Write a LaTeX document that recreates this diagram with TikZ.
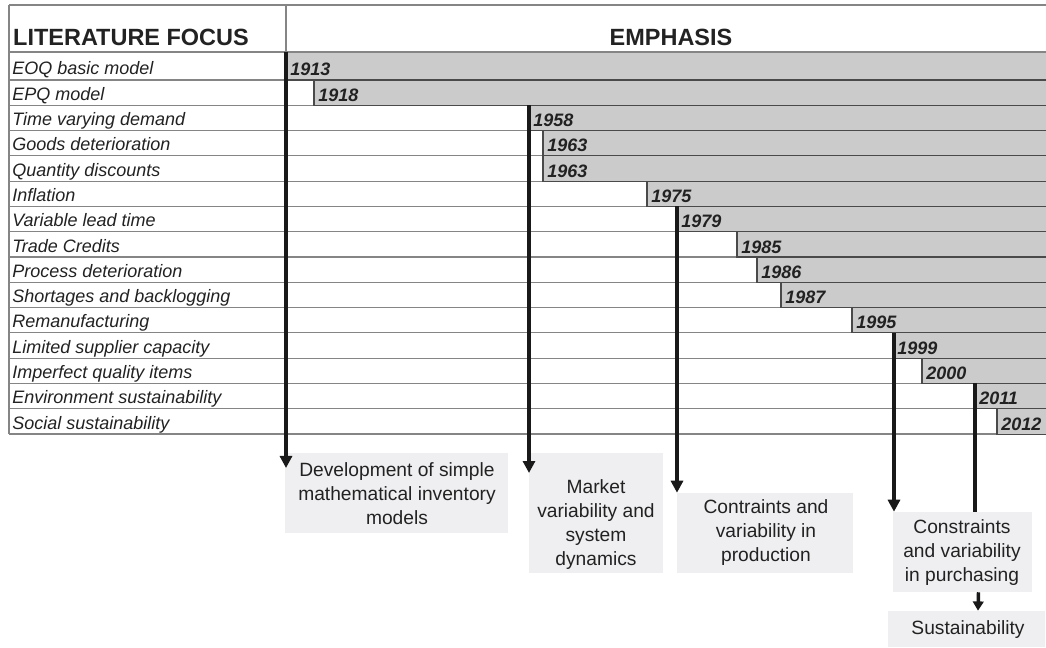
\documentclass[tikz,border=0pt]{standalone}
\usepackage{fontspec}
\setmainfont{Liberation Sans}
\usetikzlibrary{arrows.meta,calc}
\definecolor{bargray}{HTML}{CBCBCB}
\definecolor{boxgray}{HTML}{EFEFF1}
\definecolor{linegray}{HTML}{858585}
\definecolor{bardark}{HTML}{4A4A4A}
\definecolor{txt}{HTML}{222222}
\tikzset{
  rowlab/.style={anchor=base west,inner sep=0pt,text=txt,font=\fontsize{13.5pt}{16pt}\selectfont\itshape},
  yearlab/.style={anchor=base west,inner sep=0pt,text=txt,font=\fontsize{13.5pt}{16pt}\selectfont\bfseries\itshape},
  headlab/.style={anchor=base,inner sep=0pt,text=txt,font=\fontsize{17.6pt}{20pt}\selectfont\bfseries},
  barbox/.style={fill=bargray,draw=bardark,line width=0.8pt},
  gridline/.style={draw=linegray,line width=0.9pt},
  boxfill/.style={fill=boxgray,draw=none,inner sep=0pt},
  boxtext/.style={align=center,inner sep=0pt,text=txt,font=\fontsize{14.4pt}{18pt}\selectfont},
  bigarrow/.style={line width=3pt,draw=black!90,-{Triangle[width=9pt,length=9pt]}},
  bigline/.style={line width=3pt,draw=black!90},
}
\begin{document}
\begin{tikzpicture}[x=0.75pt,y=-0.75pt]
\useasboundingbox (0,0) rectangle (1046,648);
\fill[white] (0,0) rectangle (1046,648);
% bars and labels
\foreach \lab/\yr/\xs [count=\k] in {
  EOQ basic model/1913/286,
  EPQ model/1918/314,
  Time varying demand/1958/529,
  Goods deterioration/1963/543,
  Quantity discounts/1963/543,
  Inflation/1975/647,
  Variable lead time/1979/677,
  Trade Credits/1985/737,
  Process deterioration/1986/757,
  Shortages and backlogging/1987/781,
  Remanufacturing/1995/852,
  Limited supplier capacity/1999/893,
  Imperfect quality items/2000/922,
  Environment sustainability/2011/975,
  Social sustainability/2012/997}{
  \pgfmathsetmacro\yt{ifthenelse(\k==1,52,80+25.29*(\k-2))}
  \pgfmathsetmacro\yb{80+25.29*(\k-1)}
  \draw[gridline] (9,\yb) -- (1046,\yb);
  \filldraw[barbox] (\xs,\yt) rectangle (1050,\yb);
  \node[rowlab] (lab\k) at (12,\yb-5) {\lab};
  \node[yearlab] (yr\k) at (\xs+4,\yb-4) {\yr};
}
% frame
\draw[gridline] (9,5) -- (1046,5);
\draw[gridline] (9,52) -- (1046,52);
\draw[gridline] (9,5) -- (9,434);
\draw[gridline] (286,5) -- (286,52);
% headers
\node[headlab] (h1) at (131,46) {LITERATURE FOCUS};
\node[headlab] (h2) at (671,46) {EMPHASIS};
% boxes (sizes in pt = px*0.75)
\node[boxfill,minimum width=167.25pt,minimum height=60pt] (A) at (396.5,493) {};
\node[boxtext] (At) at (397,494) {Development of simple\\mathematical inventory\\models};
\node[boxfill,minimum width=100.5pt,minimum height=90pt] (B) at (596,513) {};
\node[boxtext] (Bt) at (596,525) {Market\\variability and\\system\\dynamics};
\node[boxfill,minimum width=132pt,minimum height=60pt] (C) at (765,533) {};
\node[boxtext] (Ct) at (766,533) {Contraints and\\variability in\\production};
\node[boxfill,minimum width=104.25pt,minimum height=60pt] (D) at (962.5,552) {};
\node[boxtext] (Dt) at (962,553) {Constraints\\and variability\\in purchasing};
\node[boxfill,minimum width=117.75pt,minimum height=27pt] (E) at (966.5,629) {};
\node[boxtext] (Et) at (968,630) {Sustainability};
% arrows
\coordinate (s1) at (286,52);
\coordinate (s2) at (529,105.3);
\coordinate (s3) at (677,206.5);
\coordinate (s4) at (894,332.9);
\coordinate (s5) at (975,383.5);
\coordinate (e1) at (286,468);
\coordinate (e2) at (529,473);
\draw[bigarrow] (s1) -- (e1);
\draw[bigarrow] (s2) -- (e2);
\draw[bigarrow] (s3) -- (s3 |- C.north);
\draw[bigarrow] (s4) -- (s4 |- D.north);
\draw[bigline] (s5) -- (s5 |- D.north);
\draw[bigarrow,line width=2.6pt,-{Triangle[width=8pt,length=7pt]}] ($(D.south)+(16,0)$) -- ($(E.north)+(11.5,0)$);
\end{tikzpicture}
\end{document}
